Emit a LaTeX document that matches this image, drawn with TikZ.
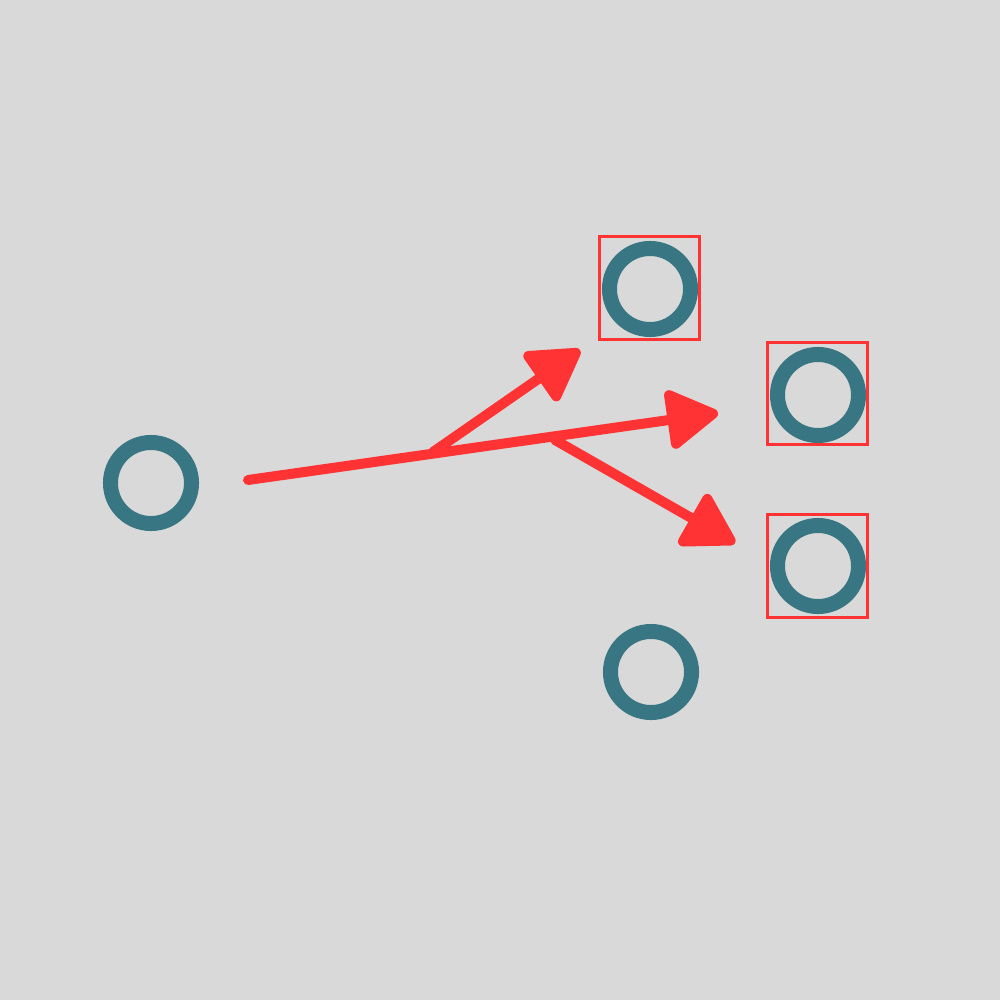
\documentclass[tikz,border=0pt]{standalone}
\usetikzlibrary{arrows.meta}
\definecolor{bg}{HTML}{D9D9D9}
\definecolor{ringc}{HTML}{377682}
\definecolor{redc}{HTML}{FF3333}
\begin{document}
\begin{tikzpicture}[x=0.01cm,y=-0.01cm,
  ring/.style={circle,draw=ringc,line width=0.15cm,minimum size=0.81cm,inner sep=0pt},
  selbox/.style={rectangle,draw=redc,line width=0.03cm,minimum width=0.99cm,minimum height=1.02cm,inner sep=0pt},
  vec/.style={draw=redc,line width=0.1cm,line cap=round,-{Triangle[round,length=0.56cm,width=0.64cm]}}]
\fill[bg] (0,0) rectangle (1000,1000);
\useasboundingbox (0,0) rectangle (1000,1000);
\node[ring] (a) at (151,483) {};
\node[ring] (b) at (650,289) {};
\node[ring] (c) at (818,395) {};
\node[ring] (d) at (818,566) {};
\node[ring] (e) at (651,672) {};
\node[selbox] (bb) at (649.5,288) {};
\node[selbox] (cb) at (817.5,393.5) {};
\node[selbox] (db) at (817.5,566) {};
\coordinate (s0) at (248,480);
\coordinate (t0) at (718,413);
\coordinate (s1) at (433,452);
\coordinate (t1) at (580,350);
\coordinate (s2) at (555,440);
\coordinate (t2) at (735,543);
\draw[vec] (s0) -- (t0);
\draw[vec] (s1) -- (t1);
\draw[vec] (s2) -- (t2);
\end{tikzpicture}
\end{document}
